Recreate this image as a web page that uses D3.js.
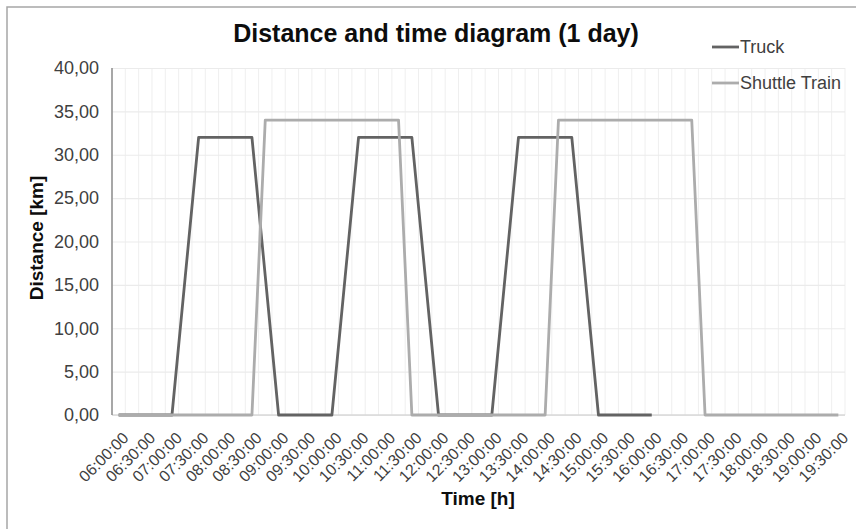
<!DOCTYPE html>
<html>
<head>
<meta charset="utf-8">
<script src="https://cdn.jsdelivr.net/npm/d3@7"></script>
<style>
  body { margin: 0; background: #fff; }
  text { font-family: Arial, "Liberation Sans", sans-serif; }
</style>
</head>
<body>
<svg id="chart" width="856" height="529"></svg>
<script>
// categories every 15 minutes, labels shown every 30 minutes
var times = ["06:00:00","06:15:00","06:30:00","06:45:00","07:00:00","07:15:00","07:30:00","07:45:00",
  "08:00:00","08:15:00","08:30:00","08:45:00","09:00:00","09:15:00","09:30:00","09:45:00",
  "10:00:00","10:15:00","10:30:00","10:45:00","11:00:00","11:15:00","11:30:00","11:45:00",
  "12:00:00","12:15:00","12:30:00","12:45:00","13:00:00","13:15:00","13:30:00","13:45:00",
  "14:00:00","14:15:00","14:30:00","14:45:00","15:00:00","15:15:00","15:30:00","15:45:00",
  "16:00:00","16:15:00","16:30:00","16:45:00","17:00:00","17:15:00","17:30:00","17:45:00",
  "18:00:00","18:15:00","18:30:00","18:45:00","19:00:00","19:15:00","19:30:00"];

var tickLabels = ["06:00:00","06:30:00","07:00:00","07:30:00","08:00:00","08:30:00","09:00:00",
  "09:30:00","10:00:00","10:30:00","11:00:00","11:30:00","12:00:00","12:30:00","13:00:00",
  "13:30:00","14:00:00","14:30:00","15:00:00","15:30:00","16:00:00","16:30:00","17:00:00",
  "17:30:00","18:00:00","18:30:00","19:00:00","19:30:00"];

// truck: 06:00 .. 16:00
var truck = [0,0,0,0,0,16,32,32,32,32,32,16,0,0,0,0,0,16,32,32,32,32,32,16,
  0,0,0,0,0,16,32,32,32,32,32,16,0,0,0,0,0];

// shuttle train: 06:00 .. 19:30
var shuttle = [0,0,0,0,0,0,0,0,0,0,0,34,34,34,34,34,34,34,34,34,34,34,0,0,
  0,0,0,0,0,0,0,0,0,34,34,34,34,34,34,34,34,34,34,34,0,0,0,0,0,0,0,0,0,0,0];

var yTicks = [0,5,10,15,20,25,30,35,40];

var svg = d3.select("#chart");
var margin = {top: 68, right: 11, bottom: 114, left: 112};
var width = 856 - margin.left - margin.right,
    height = 529 - margin.top - margin.bottom;

// outer chart border
svg.append("rect")
  .attr("x", 7).attr("y", 7)
  .attr("width", 1000).attr("height", 1000)
  .attr("fill", "none")
  .attr("stroke", "#a6a6a6")
  .attr("stroke-width", 1.5);

var g = svg.append("g")
  .attr("transform", "translate(" + margin.left + "," + margin.top + ")");

var x = d3.scaleBand().domain(times).range([0, width]).padding(0);
var y = d3.scaleLinear().domain([0, 40]).range([height, 0]);

// vertical grid at category boundaries
g.append("g").selectAll("line")
  .data(d3.range(times.length + 1))
  .enter().append("line")
    .attr("x1", function(i) { return i * x.step(); })
    .attr("x2", function(i) { return i * x.step(); })
    .attr("y1", 0).attr("y2", height)
    .attr("stroke", "#efefef")
    .attr("stroke-width", 1);

// horizontal grid
g.append("g")
  .call(d3.axisLeft(y).tickValues(yTicks).tickSize(-width).tickFormat(""))
  .call(function(s) { s.select(".domain").remove(); })
  .selectAll("line")
    .attr("stroke", "#ebebeb")
    .attr("stroke-width", 1.2);

// axes lines
g.append("line")
  .attr("x1", 0).attr("x2", width)
  .attr("y1", height).attr("y2", height)
  .attr("stroke", "#d9d9d9").attr("stroke-width", 1.5);
g.append("line")
  .attr("x1", 0).attr("x2", 0)
  .attr("y1", 0).attr("y2", height)
  .attr("stroke", "#8c8c8c").attr("stroke-width", 1.5);

// y tick labels
var fmt = function(d) { return d3.format(".2f")(d).replace(".", ","); };
g.append("g")
  .call(d3.axisLeft(y).tickValues(yTicks).tickSize(0).tickPadding(13).tickFormat(fmt))
  .call(function(s) { s.select(".domain").remove(); })
  .selectAll("text")
    .style("font-size", "18px")
    .style("font-family", "Arial, 'Liberation Sans', sans-serif")
    .attr("fill", "#404040");

// x tick labels, rotated
var xAxis = g.append("g")
  .attr("transform", "translate(0," + height + ")")
  .call(d3.axisBottom(x).tickValues(tickLabels).tickSize(0).tickFormat(function(d) { return d; }));
xAxis.select(".domain").remove();
xAxis.selectAll("text")
  .style("font-size", "16px")
  .style("font-family", "Arial, 'Liberation Sans', sans-serif")
  .attr("fill", "#404040")
  .attr("text-anchor", "end")
  .attr("dy", "0.35em")
  .attr("transform", "translate(7,20) rotate(-45)")
  .attr("y", 0).attr("x", 0);

// lines
var line = d3.line()
  .x(function(d, i) { return x(times[i]) + x.bandwidth() / 2; })
  .y(function(d) { return y(d); });

g.append("path")
  .datum(truck)
  .attr("d", line)
  .attr("fill", "none")
  .attr("stroke", "#636363")
  .attr("stroke-width", 2.8)
  .attr("stroke-linejoin", "round");

g.append("path")
  .datum(shuttle)
  .attr("d", line)
  .attr("fill", "none")
  .attr("stroke", "#acacac")
  .attr("stroke-width", 2.8)
  .attr("stroke-linejoin", "round");

// titles
svg.append("text")
  .attr("x", 436).attr("y", 42)
  .attr("text-anchor", "middle")
  .style("font-size", "25px")
  .style("font-weight", "bold")
  .attr("fill", "#0d0d0d")
  .text("Distance and time diagram (1 day)");

svg.append("text")
  .attr("transform", "translate(43,238) rotate(-90)")
  .attr("text-anchor", "middle")
  .style("font-size", "19px")
  .style("font-weight", "bold")
  .attr("fill", "#0d0d0d")
  .text("Distance [km]");

svg.append("text")
  .attr("x", 478).attr("y", 505)
  .attr("text-anchor", "middle")
  .style("font-size", "19px")
  .style("font-weight", "bold")
  .attr("fill", "#0d0d0d")
  .text("Time [h]");

// legend
var legend = [{name: "Truck", color: "#636363", y: 47}, {name: "Shuttle Train", color: "#acacac", y: 83}];
var lg = svg.append("g").selectAll("g").data(legend).enter().append("g");
lg.append("line")
  .attr("x1", 712).attr("x2", 739)
  .attr("y1", function(d) { return d.y; }).attr("y2", function(d) { return d.y; })
  .attr("stroke", function(d) { return d.color; })
  .attr("stroke-width", 2.8);
lg.append("text")
  .attr("x", 740).attr("y", function(d) { return d.y; })
  .attr("dy", "0.35em")
  .style("font-size", "18px")
  .attr("fill", "#404040")
  .text(function(d) { return d.name; });
</script>
</body>
</html>
